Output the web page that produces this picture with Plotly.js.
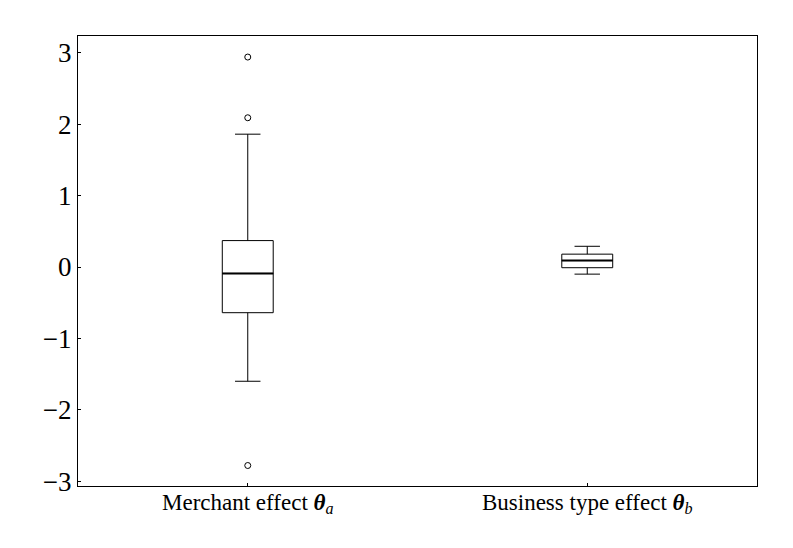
<!DOCTYPE html>
<html>
<head>
<meta charset="utf-8">
<script src="https://cdn.plot.ly/plotly-3.0.1.min.js"></script>
<style>html,body{margin:0;padding:0;background:#fff}#chart{width:793px;height:548px}</style>
</head>
<body>
<div id="chart"></div>
<script>
// Data
const positions = [1, 2];
const labels = ["Merchant effect <b><i>θ</i></b><sub><i>a</i></sub>", "Business type effect <b><i>θ</i></b><sub><i>b</i></sub>"];
const q1 = [-0.64, -0.01];
const medians = [-0.09, 0.09];
const q3 = [0.37, 0.18];
const lowerWhisker = [-1.60, -0.10];
const upperWhisker = [1.86, 0.29];
const outliersA = [2.94, 2.09, -2.78];
const outliersB = [];
const yTicks = [-3, -2, -1, 0, 1, 2, 3];

const boxWidth = 0.15;
const traces = [];
positions.forEach((p, i) => {
  traces.push({
    type: 'box', x: [p], q1: [q1[i]], median: [medians[i]], q3: [q3[i]],
    lowerfence: [lowerWhisker[i]], upperfence: [upperWhisker[i]],
    width: boxWidth, whiskerwidth: 0.5, boxpoints: false,
    line: {color: '#000', width: 1}, fillcolor: 'rgba(0,0,0,0)',
    showlegend: false, hoverinfo: 'skip'
  });
  // thicker median line
  traces.push({
    type: 'scatter', mode: 'lines', x: [p - boxWidth / 2, p + boxWidth / 2], y: [medians[i], medians[i]],
    line: {color: '#000', width: 2}, showlegend: false, hoverinfo: 'skip'
  });
});
const outl = [outliersA, outliersB];
outl.forEach((arr, i) => {
  if (!arr.length) return;
  traces.push({
    type: 'scatter', mode: 'markers', x: arr.map(() => positions[i]), y: arr,
    marker: {symbol: 'circle-open', size: 6, color: '#000', line: {width: 1, color: '#000'}},
    showlegend: false, hoverinfo: 'skip'
  });
});

const layout = {
  width: 793, height: 548,
  margin: {l: 78, r: 36, t: 36, b: 62},
  paper_bgcolor: '#fff', plot_bgcolor: '#fff',
  font: {family: 'Liberation Serif, DejaVu Serif, serif', color: '#000'},
  showlegend: false,
  xaxis: {
    range: [0.5, 2.5], tickvals: positions, ticktext: labels,
    ticks: 'inside', ticklen: 3, tickcolor: '#000', tickwidth: 1,
    showline: true, linecolor: '#000', linewidth: 1, mirror: true,
    showgrid: false, zeroline: false, ticklabelstandoff: -5,
    tickfont: {size: 23, family: 'Liberation Serif, serif'}
  },
  yaxis: {
    range: [-3.067, 3.235], tickvals: yTicks, ticktext: yTicks.map(v => v < 0 ? '−' + Math.abs(v) : String(v)),
    ticks: 'inside', ticklen: 3, tickcolor: '#000', tickwidth: 1,
    showline: true, linecolor: '#000', linewidth: 1, mirror: true,
    showgrid: false, zeroline: false, tickfont: {size: 27, family: 'Liberation Serif, serif'}
  }
};
Plotly.newPlot('chart', traces, layout, {displayModeBar: false, staticPlot: true});
</script>
</body>
</html>
